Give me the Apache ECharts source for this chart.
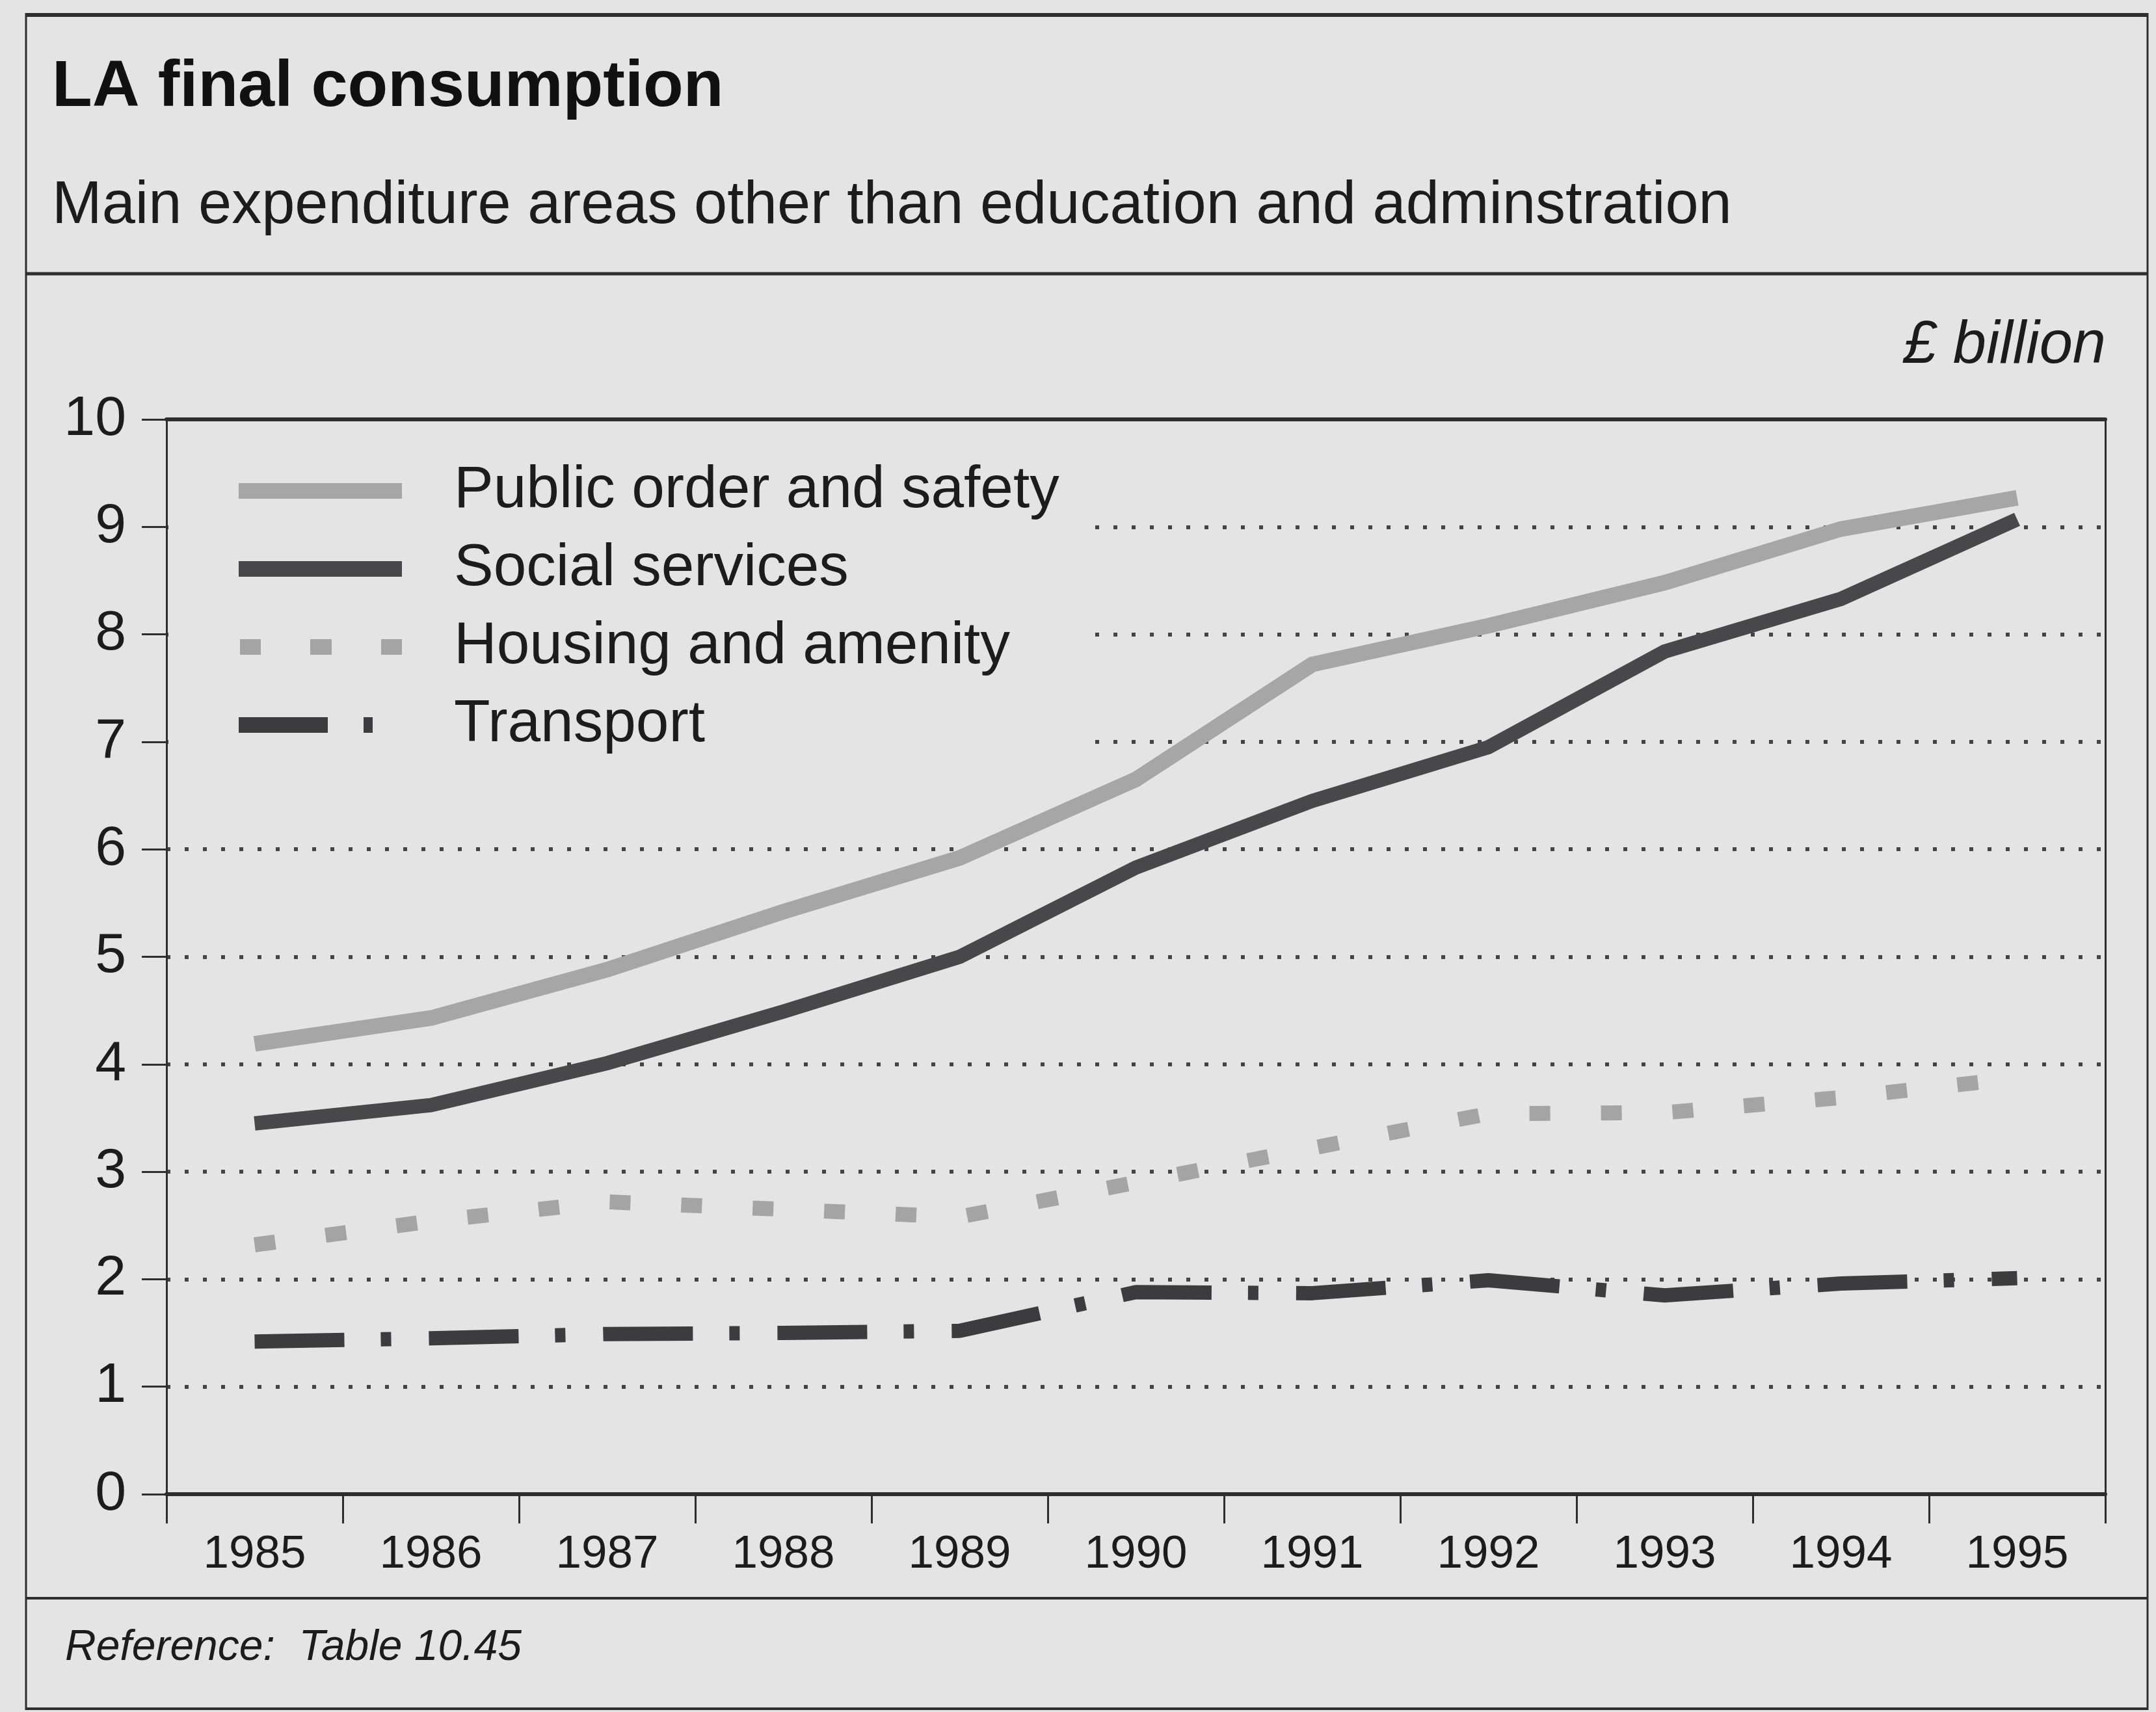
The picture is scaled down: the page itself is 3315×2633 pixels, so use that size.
<!DOCTYPE html>
<html>
<head>
<meta charset="utf-8">
<title>LA final consumption</title>
<script src="https://cdn.jsdelivr.net/npm/echarts@6/dist/echarts.min.js"></script>
<style>
  html, body { margin: 0; padding: 0; background: #e4e4e4; }
  #chart { width: 3315px; height: 2633px; }
</style>
</head>
<body>
<div id="chart"></div>
<script>
// Local authority final consumption, £ billion, 1985-1995
const years = ['1985', '1986', '1987', '1988', '1989', '1990', '1991', '1992', '1993', '1994', '1995'];
const publicOrder    = [4.19, 4.43, 4.88, 5.42, 5.92, 6.65, 7.72, 8.08, 8.48, 8.98, 9.27];
const socialServices = [3.45, 3.62, 4.01, 4.49, 5.00, 5.83, 6.45, 6.95, 7.84, 8.33, 9.07];
const housingAmenity = [2.32, 2.54, 2.72, 2.65, 2.58, 2.90, 3.22, 3.54, 3.55, 3.69, 3.87];
const transport      = [1.42, 1.45, 1.49, 1.50, 1.52, 1.88, 1.87, 1.99, 1.85, 1.96, 2.01];
const seriesNames = ['Public order and safety', 'Social services', 'Housing and amenity', 'Transport'];
const yMin = 0, yMax = 10, yStep = 1;

const FONT = '"Liberation Sans", Arial, Helvetica, sans-serif';
const BG = '#e4e4e4';
const INK = '#1c1c1c';
const RULE = '#2e2e2e';

const chart = echarts.init(document.getElementById('chart'), null, { renderer: 'canvas' });

function frameLine(x1, y1, x2, y2, w) {
  return { type: 'line', shape: { x1, y1, x2, y2 }, style: { stroke: RULE, lineWidth: w }, z: 10 };
}

const option = {
  backgroundColor: BG,
  animation: false,
  grid: { left: 256, right: 78, top: 645, bottom: 335, containLabel: false },
  xAxis: [
    {
      type: 'category', data: years, boundaryGap: true, position: 'bottom',
      axisLine: { show: true, onZero: false, lineStyle: { color: RULE, width: 6 } },
      axisTick: { show: true, length: 45, lineStyle: { color: RULE, width: 3 } },
      axisLabel: { margin: 58, fontSize: 71, fontFamily: FONT, color: INK },
      splitLine: { show: false }
    },
    {
      type: 'category', data: years, boundaryGap: true, position: 'top',
      axisLine: { show: true, onZero: false, lineStyle: { color: RULE, width: 6 } },
      axisTick: { show: false }, axisLabel: { show: false }, splitLine: { show: false }
    }
  ],
  yAxis: [
    {
      type: 'value', min: yMin, max: yMax, interval: yStep, position: 'left',
      axisLine: { show: true, onZero: false, lineStyle: { color: RULE, width: 3 } },
      axisTick: { show: true, length: 38, lineStyle: { color: RULE, width: 3 } },
      axisLabel: { margin: 62, fontSize: 86, fontFamily: FONT, color: INK },
      splitLine: { show: true, lineStyle: { color: '#444444', width: 6, type: [6, 22] } }
    },
    {
      type: 'value', min: yMin, max: yMax, interval: yStep, position: 'right',
      axisLine: { show: true, onZero: false, lineStyle: { color: RULE, width: 3 } },
      axisTick: { show: false }, axisLabel: { show: false }, splitLine: { show: false }
    }
  ],
  legend: {
    orient: 'vertical', left: 367, top: 707, padding: 0,
    itemWidth: 326, itemHeight: 24, itemGap: 24,
    selectedMode: false,
    itemStyle: { borderWidth: 0 },
    textStyle: { fontSize: 91, fontFamily: FONT, color: INK, lineHeight: 96 },
    data: [
      { name: seriesNames[0], icon: 'path://M0,0H251V24H0Z M326,0L326,24' },
      { name: seriesNames[1], icon: 'path://M0,0H251V24H0Z M326,0L326,24' },
      { name: seriesNames[2], icon: 'path://M2,0H34V24H2Z M110,0H143V24H110Z M219,0H251V24H219Z M0,0L0,24 M326,0L326,24' },
      { name: seriesNames[3], icon: 'path://M0,0H137V24H0Z M192,0H206V24H192Z M326,0L326,24' }
    ]
  },
  series: [
    {
      name: seriesNames[0], type: 'line', data: publicOrder, symbol: 'none', z: 3,
      itemStyle: { color: '#a6a6a6' },
      lineStyle: { color: '#a6a6a6', width: 24, cap: 'butt', join: 'miter' }
    },
    {
      name: seriesNames[1], type: 'line', data: socialServices, symbol: 'none', z: 4,
      itemStyle: { color: '#48474a' },
      lineStyle: { color: '#48474a', width: 22, cap: 'butt', join: 'miter' }
    },
    {
      name: seriesNames[2], type: 'line', data: housingAmenity, symbol: 'none', z: 3,
      itemStyle: { color: '#a4a4a4' },
      lineStyle: { color: '#a4a4a4', width: 23, cap: 'butt', type: [32, 78] }
    },
    {
      name: seriesNames[3], type: 'line', data: transport, symbol: 'none', z: 4,
      itemStyle: { color: '#3c3b3e' },
      lineStyle: { color: '#3c3b3e', width: 22, cap: 'butt', type: [138, 56, 16, 58] }
    }
  ],
  graphic: [
    // panel rules
    frameLine(40, 23, 3302, 23, 6),
    frameLine(40, 20, 40, 2630, 3),
    frameLine(3302, 20, 3302, 2630, 3),
    frameLine(40, 2628, 3302, 2628, 4),
    frameLine(40, 421, 3302, 421, 5),
    frameLine(40, 2458, 3302, 2458, 4),
    // plain area behind the key, over the dotted grid
    { type: 'rect', shape: { x: 259, y: 650, width: 1421, height: 540 }, style: { fill: BG }, z: 1 },
    // headings and notes
    { type: 'text', x: 80, y: 135, z: 10,
      style: { text: 'LA final consumption', font: 'bold 101px ' + FONT, fill: '#111', align: 'left', verticalAlign: 'middle' } },
    { type: 'text', x: 80, y: 318, z: 10,
      style: { text: 'Main expenditure areas other than education and adminstration', font: '92px ' + FONT, fill: INK, align: 'left', verticalAlign: 'middle' } },
    { type: 'text', x: 3238, y: 532, z: 10,
      style: { text: '£ billion', font: 'italic 92px ' + FONT, fill: INK, align: 'right', verticalAlign: 'middle' } },
    { type: 'text', x: 100, y: 2535, z: 10,
      style: { text: 'Reference:  Table 10.45', font: 'italic 66px ' + FONT, fill: INK, align: 'left', verticalAlign: 'middle' } }
  ]
};

chart.setOption(option);
</script>
</body>
</html>
